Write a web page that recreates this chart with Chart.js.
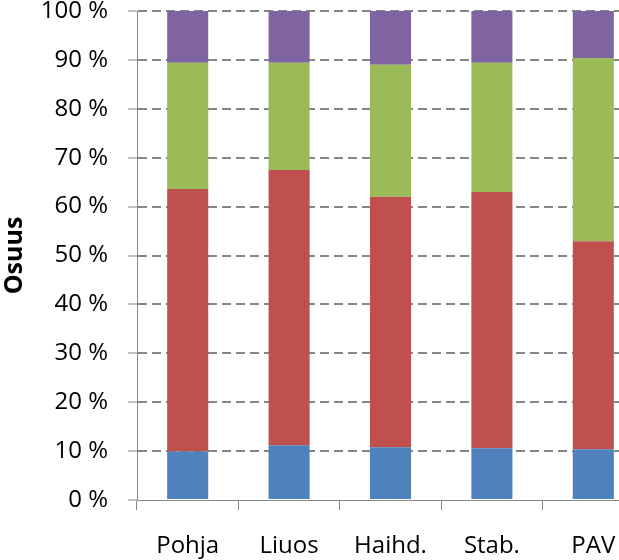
<!DOCTYPE html>
<html>
<head>
<meta charset="utf-8">
<script src="https://cdn.jsdelivr.net/npm/chart.js@4/dist/chart.umd.min.js"></script>
<style>
  html, body { margin: 0; padding: 0; background: #fff; overflow: hidden; }
  #wrap { width: 644px; height: 560px; }
</style>
</head>
<body>
<div id="wrap"><canvas id="osuusChart" width="644" height="560"></canvas></div>
<script>
// Kategoriat ja sarjat (osuudet prosentteina, luettu kuvasta)
const categories = ["Pohja", "Liuos", "Haihd.", "Stab.", "PAV"];
const series1 = [9.9, 11.2, 10.8, 10.6, 10.4];
const series2 = [53.7, 56.3, 51.2, 52.4, 42.5];
const series3 = [25.8, 21.9, 27.0, 26.4, 37.5];
const series4 = [10.6, 10.6, 11.0, 10.6, 9.6];
const seriesNames = ["Sarja 1", "Sarja 2", "Sarja 3", "Sarja 4"];
const seriesColors = ["#4F81BD", "#C0504D", "#9BBB59", "#8064A2"];
const yTicks = [0, 10, 20, 30, 40, 50, 60, 70, 80, 90, 100];

document.addEventListener("DOMContentLoaded", () => {
  const canvas = document.getElementById("osuusChart");
  const allSeries = [series1, series2, series3, series4];
  const gridGray = "#868686";

  const datasets = allSeries.map((values, i) => ({
    label: seriesNames[i],
    data: values,
    backgroundColor: seriesColors[i],
    borderWidth: 0,
    categoryPercentage: 1,
    barPercentage: 0.405,
  }));

  new Chart(canvas, {
    type: "bar",
    data: { labels: categories, datasets: datasets },
    options: {
      responsive: false,
      animation: false,
      devicePixelRatio: 1,
      layout: { padding: { top: 11, left: 0, right: 0, bottom: 0 } },
      plugins: {
        legend: { display: false },
        tooltip: { enabled: false },
      },
      scales: {
        x: {
          stacked: true,
          offset: true,
          grid: {
            offset: true,
            drawOnChartArea: false,
            color: gridGray,
            tickLength: 10,
            tickWidth: 1,
          },
          border: { color: gridGray, width: 1 },
          ticks: {
            color: "#000",
            padding: 22,
            maxRotation: 0,
            font: { family: "Open Sans", size: 24 },
          },
          afterFit: (scale) => {
            scale.height = 60;
            scale.paddingLeft = 0;
            scale.paddingRight = 0;
          },
        },
        y: {
          stacked: true,
          min: 0,
          max: 100,
          afterBuildTicks: (scale) => {
            scale.ticks = yTicks.map((v) => ({ value: v }));
          },
          grid: {
            // nollaviiva jätetään pois, x-akselin viiva piirtyy sen tilalle
            color: (ctx) => (ctx.tick && ctx.tick.value === 0 ? "rgba(0,0,0,0)" : gridGray),
            lineWidth: 2,
            tickLength: 9,
            tickWidth: 1,
            tickColor: gridGray,
          },
          border: { color: gridGray, width: 1, dash: [9, 5] },
          ticks: {
            color: "#000",
            padding: 20,
            font: { family: "Open Sans", size: 24 },
            callback: (value) => value + " %",
          },
          title: {
            display: true,
            text: "Osuus",
            color: "#000",
            padding: { top: 0, bottom: 0 },
            font: { family: "Open Sans", size: 25, weight: "bold" },
          },
          afterFit: (scale) => {
            scale.width = 137;
            scale.paddingTop = 0;
            scale.paddingBottom = 0;
          },
        },
      },
    },
  });
});
</script>
</body>
</html>
